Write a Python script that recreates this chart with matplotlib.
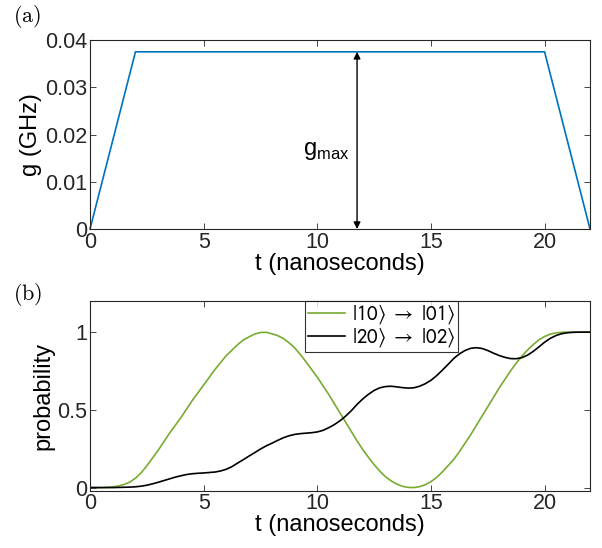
import numpy as np
import matplotlib
matplotlib.use("Agg")
import matplotlib.pyplot as plt
from matplotlib.ticker import FuncFormatter

plt.rcParams['font.family'] = ['Liberation Sans', 'DejaVu Sans']
plt.rcParams['mathtext.fontset'] = 'custom'
plt.rcParams['mathtext.rm'] = 'Liberation Sans'
plt.rcParams['font.size'] = 15

# (a) coupling pulse
t_pulse = [0, 2, 20, 22]
g_pulse = [0, 0.0375, 0.0375, 0]
g_max = 0.0375
t_arrow = 11.75

t_prob = [i * 0.25 for i in range(89)]
p_10_01 = [0, 0, 0, 0.002, 0.005, 0.01, 0.02, 0.035, 0.06, 0.095,
           0.14, 0.19, 0.24, 0.295, 0.35, 0.4, 0.45, 0.505, 0.56, 0.61,
           0.66, 0.71, 0.76, 0.805, 0.85, 0.885, 0.92, 0.95, 0.97, 0.988,
           0.998, 0.999, 0.99, 0.978, 0.96, 0.932, 0.9, 0.857, 0.81, 0.76,
           0.71, 0.655, 0.6, 0.54, 0.48, 0.42, 0.36, 0.3, 0.245, 0.195,
           0.148, 0.106, 0.07, 0.043, 0.022, 0.008, 0.001, 0.0, 0.006, 0.018,
           0.038, 0.065, 0.1, 0.14, 0.18, 0.23, 0.285, 0.34, 0.4, 0.46,
           0.52, 0.58, 0.64, 0.695, 0.75, 0.8, 0.845, 0.885, 0.92, 0.95,
           0.972, 0.987, 0.995, 0.999, 1.0, 1.0, 1.0, 1.0, 1.0]
p_20_02 = [0, 0, 0, 0, 0, 0.001, 0.002, 0.003, 0.005, 0.009,
           0.015, 0.024, 0.034, 0.045, 0.056, 0.067, 0.076, 0.084, 0.089, 0.092,
           0.094, 0.097, 0.1, 0.107, 0.118, 0.135, 0.158, 0.18, 0.203, 0.225,
           0.248, 0.268, 0.285, 0.303, 0.32, 0.333, 0.342, 0.347, 0.35, 0.353,
           0.358, 0.368, 0.385, 0.405, 0.43, 0.46, 0.495, 0.535, 0.57, 0.6,
           0.625, 0.642, 0.65, 0.652, 0.648, 0.643, 0.64, 0.642, 0.652, 0.668,
           0.69, 0.72, 0.755, 0.792, 0.83, 0.86, 0.882, 0.896, 0.9, 0.895,
           0.882, 0.865, 0.85, 0.838, 0.83, 0.829, 0.836, 0.852, 0.876, 0.905,
           0.935, 0.96, 0.978, 0.99, 0.996, 0.999, 1.0, 1.0, 1.0]

blue = '#0072BD'
green = '#77AC30'
spine_c = '#262626'

fig = plt.figure(figsize=(6.02, 5.48), dpi=100)
ax1 = fig.add_axes([0.1495, 0.582, 0.8306, 0.345])
ax2 = fig.add_axes([0.1495, 0.1046, 0.8306, 0.346])

fmt = FuncFormatter(lambda v, p: f"{v:g}")

for ax in (ax1, ax2):
    ax.tick_params(direction='in', top=True, right=True, length=4, width=0.6,
                   colors=spine_c, labelsize=15.5, pad=2)
    for s in ax.spines.values():
        s.set_linewidth(0.8)
        s.set_color(spine_c)
    ax.set_xlim(0, 22)
    ax.set_xticks([0, 5, 10, 15, 20])
    ax.xaxis.set_major_formatter(fmt)
    ax.yaxis.set_major_formatter(fmt)
    ax.set_xlabel('t (nanoseconds)', fontsize=17, labelpad=0)

# (a)
ax1.plot(t_pulse, g_pulse, color=blue, lw=1.2, clip_on=False)
ax1.set_ylim(0, 0.04)
ax1.set_yticks([0, 0.01, 0.02, 0.03, 0.04])
ax1.set_ylabel('g (GHz)', fontsize=17, labelpad=2)
ax1.annotate('', xy=(t_arrow, g_max), xytext=(t_arrow, 0),
             arrowprops=dict(arrowstyle='<|-|>', color='black', lw=1.0,
                             mutation_scale=10, shrinkA=0, shrinkB=0))
ax1.text(t_arrow - 0.35, 0.0165, r'g$_{\mathregular{max}}$', ha='right', va='center',
         fontsize=17)

# (b)
ax2.plot(t_prob, p_10_01, color=green, lw=1.2,
         label=r'$|10\rangle\ \rightarrow\ |01\rangle$')
ax2.plot(t_prob, p_20_02, color='black', lw=1.2,
         label=r'$|20\rangle\ \rightarrow\ |02\rangle$')
ax2.set_ylim(-0.02, 1.2)
ax2.set_yticks([0, 0.5, 1])
ax2.set_ylabel('probability', fontsize=17, labelpad=2)
leg = ax2.legend(loc='upper center', bbox_to_anchor=(0.583, 1.0), fontsize=15,
                 frameon=True, fancybox=False, borderaxespad=0, borderpad=0.12,
                 handlelength=1.8, handletextpad=0.3, labelspacing=0.0)
leg.get_frame().set_edgecolor('black')
leg.get_frame().set_linewidth(0.8)
for txt in leg.get_texts():
    txt.set_math_fontfamily('stixsans')

fig.text(0.022, 0.995, r'$\mathrm{(a)}$', math_fontfamily='cm', fontsize=16,
         va='top', ha='left')
fig.text(0.022, 0.487, r'$\mathrm{(b)}$', math_fontfamily='cm', fontsize=16,
         va='top', ha='left')

fig.savefig('out.png', dpi=100)
